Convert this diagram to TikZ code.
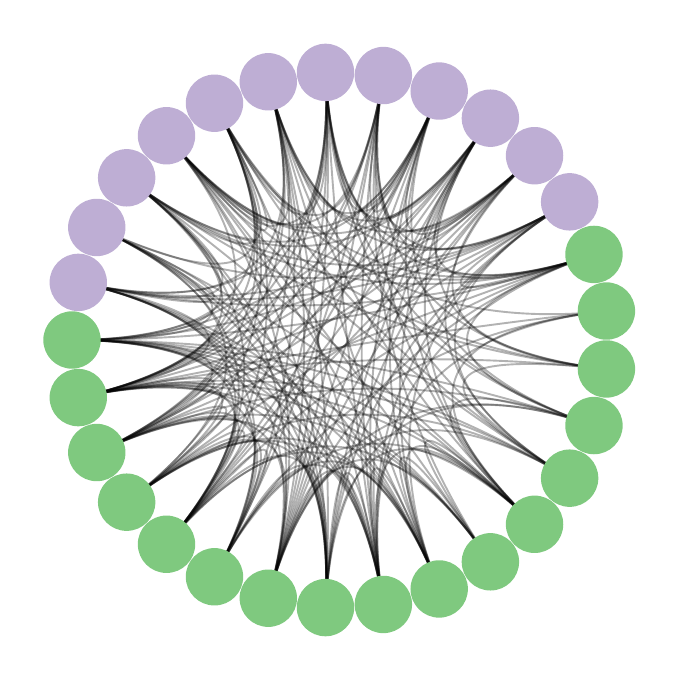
\documentclass[tikz,border=0pt]{standalone}
\usetikzlibrary{calc}
\definecolor{grpA}{HTML}{BEAED4}
\definecolor{grpB}{HTML}{7FC97F}
\begin{document}
\begin{tikzpicture}[x=1pt,y=1pt,
  vtx/.style={circle,minimum size=57.4pt,inner sep=0pt,draw=none},
  link/.style={black,line width=1.9pt,opacity=0.3}]
\useasboundingbox (0,0) rectangle (680,681);
\begin{scope}[shift={(340,341)}]
\foreach \k in {0,...,28}{
  \pgfmathsetmacro\ang{180-\k*360/29}
  \coordinate (p\k) at (\ang:268);
  \coordinate (c\k) at (\ang:89.33);
}
\def\wlist{{0.9,0.85,0.65,0.5,0.5,0.65,0.8,0.85,0.85,0.8,0.8,0.75,0.6,0.5,0.35,0.4,0.55,0.65,0.7,0.8,0.85,0.9,0.9,0.9,0.9,0.85,0.85,0.9,0.9}}
\pgfmathsetseed{7}
\foreach \i in {0,...,27}{
  \pgfmathtruncatemacro\js{\i+1}
  \foreach \j in {\js,...,28}{
    \pgfmathsetmacro\pr{0.92*\wlist[\i]*\wlist[\j]}
    \pgfmathsetmacro\rv{rnd}
    \ifdim\rv pt<\pr pt
      \draw[link] (p\i) .. controls (c\i) and (c\j) .. (p\j);
    \fi
  }
}
\foreach \k in {1,...,12}{
  \node[vtx,fill=grpA] (n\k) at (p\k) {};
}
\foreach \k in {0,13,14,15,16,17,18,19,20,21,22,23,24,25,26,27,28}{
  \node[vtx,fill=grpB] (n\k) at (p\k) {};
}
\end{scope}
\end{tikzpicture}
\end{document}
